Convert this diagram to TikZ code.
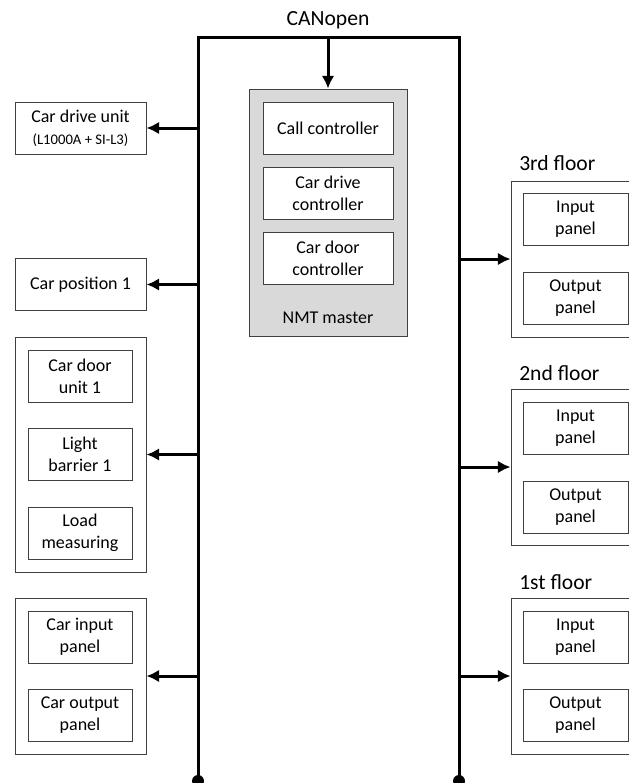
\documentclass[tikz,border=0pt]{standalone}
\usepackage{fontspec}
\setmainfont{Carlito}
\usetikzlibrary{arrows.meta}
\definecolor{nmtgray}{HTML}{D9D9D9}
\begin{document}
\begin{tikzpicture}[x=0.75pt, y=-0.75pt,
	box/.style={draw=black!75, line width=0.75pt, fill=white, inner sep=0, align=center, font=\fontsize{13.5}{16.3}\selectfont},
	outer/.style={box, minimum width=98.25pt, minimum height=39pt},
	inner/.style={box, minimum width=78pt, minimum height=39pt},
	ctrl/.style={box, minimum width=97.5pt, minimum height=39pt},
	panel/.style={box, minimum width=78.75pt, minimum height=39pt},
	grp/.style={box, minimum width=98.25pt, minimum height=117pt},
	floor/.style={box, minimum width=96.75pt, minimum height=117pt},
	lbl/.style={inner sep=0, font=\fontsize{16.2}{19}\selectfont},
	bus/.style={line width=2.25pt},
	link/.style={line width=2.25pt, -{Latex[length=9.5pt, width=9.5pt]}}]
	\useasboundingbox (0,0) rectangle (629,783);
	\clip (0,0) rectangle (629,783);

	% bus lines
	\coordinate (lt) at (198,37);
	\coordinate (lb) at (198,781);
	\coordinate (rt) at (459,37);
	\coordinate (rb) at (459,781);
	\node[lbl] (can) at (328,20) {CANopen};
	\draw[bus] (lb) -- (lt) -- (rt) -- (rb);
	\fill (lb) circle (4.5pt);
	\fill (rb) circle (4.5pt);

	% NMT master
	\node[box, fill=nmtgray, minimum width=118.5pt, minimum height=185.25pt] (nmt) at (328,212.5) {};
	\node[ctrl] (call) at (328,128) {Call controller};
	\node[ctrl] (drivectrl) at (328,193) {Car drive\\controller};
	\node[ctrl] (doorctrl) at (328,258) {Car door\\controller};
	\node[lbl, font=\fontsize{13.5}{16.3}\selectfont] (nmtl) at (328,318) {NMT master};

	% car side
	\node[outer] (drive) at (80.5,128) {Car drive unit\\{\fontsize{11}{13}\selectfont (L1000A + SI-L3)}};
	\node[outer] (pos) at (80.5,284.5) {Car position 1};
	\node[grp, minimum height=176.25pt] (door) at (80.5,454.5) {};
	\node[inner] (doorunit) at (80,376) {Car door\\unit 1};
	\node[inner] (light) at (80,454) {Light\\barrier 1};
	\node[inner] (load) at (80,533) {Load\\measuring};
	\node[grp] (carpan) at (80.5,676) {};
	\node[inner] (carin) at (80,637) {Car input\\panel};
	\node[inner] (carout) at (80,715) {Car output\\panel};

	% floors
	\node[floor] (f3) at (575.5,259) {};
	\node[panel] (f3in) at (575.5,219.5) {Input\\panel};
	\node[panel] (f3out) at (575.5,298) {Output\\panel};
	\node[lbl, anchor=west] (f3l) at (519,163) {3rd floor};
	\node[floor] (f2) at (575.5,467) {};
	\node[panel] (f2in) at (575.5,428) {Input\\panel};
	\node[panel] (f2out) at (575.5,507) {Output\\panel};
	\node[lbl, anchor=west] (f2l) at (519,373) {2nd floor};
	\node[floor] (f1) at (575.5,676) {};
	\node[panel] (f1in) at (575.5,637) {Input\\panel};
	\node[panel] (f1out) at (575.5,715) {Output\\panel};
	\node[lbl, anchor=west] (f1l) at (519,582) {1st floor};

	% connectors
	\draw[link] (nmt.north |- lt) -- (nmt.north);
	\draw[link] (lt |- drive.east) -- (drive.east);
	\draw[link] (lt |- pos.east) -- (pos.east);
	\draw[link] (lt |- door.east) -- (door.east);
	\draw[link] (lt |- carpan.east) -- (carpan.east);
	\draw[link] (rt |- f3.west) -- (f3.west);
	\draw[link] (rt |- f2.west) -- (f2.west);
	\draw[link] (rt |- f1.west) -- (f1.west);
\end{tikzpicture}
\end{document}
